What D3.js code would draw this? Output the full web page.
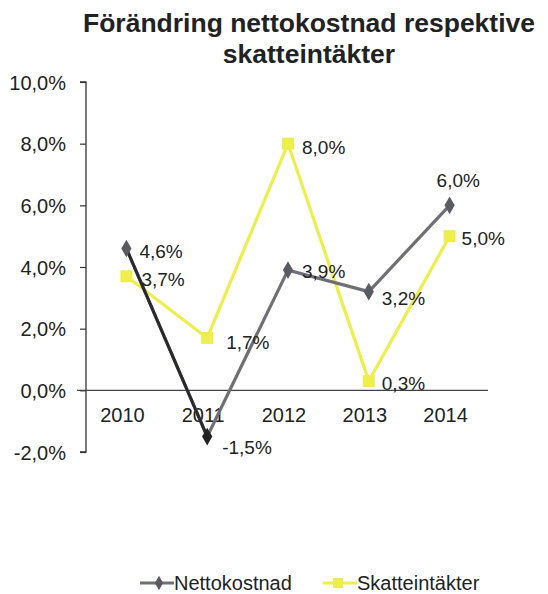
<!DOCTYPE html>
<html>
<head>
<meta charset="utf-8">
<script src="https://cdn.jsdelivr.net/npm/d3@7"></script>
<style>
  html, body { margin: 0; padding: 0; background: #fff; }
  svg text { font-family: "Liberation Sans", Arial, sans-serif; fill: #222; }
</style>
</head>
<body>
<svg id="chart" width="548" height="594"></svg>
<script>
// Yearly change, in percent
const years = ["2010", "2011", "2012", "2013", "2014"];
const nettokostnad = [4.6, -1.5, 3.9, 3.2, 6.0];
const skatteintakter = [3.7, 1.7, 8.0, 0.3, 5.0];
const yTicks = [-2, 0, 2, 4, 6, 8, 10];
const titleLines = ["Förändring nettokostnad respektive", "skatteintäkter"];
const seriesNames = ["Nettokostnad", "Skatteintäkter"];

const svg = d3.select("#chart");
const plotLeft = 86, plotRight = 490, plotTop = 82, plotBottom = 452;

const x = d3.scaleBand().domain(years).range([plotLeft, plotRight]).padding(0);
const y = d3.scaleLinear().domain([-2, 10]).range([plotBottom, plotTop]);
const cx = d => x(d) + x.bandwidth() / 2;
// Swedish style: decimal comma, plain hyphen for negatives
const fmt = v => (v < 0 ? "-" : "") + d3.format(".1f")(Math.abs(v)).replace(".", ",") + "%";

// Title
svg.append("g").selectAll("text").data(titleLines).join("text")
  .attr("x", 309).attr("y", (d, i) => 32 + i * 31)
  .attr("text-anchor", "middle")
  .style("font-size", "26.5px").style("font-weight", "bold")
  .text(d => d);

// Y axis
const yAxis = svg.append("g").attr("transform", `translate(${plotLeft},0)`)
  .call(d3.axisLeft(y).tickValues(yTicks).tickSize(6).tickPadding(14).tickFormat(fmt));
yAxis.select(".domain").attr("stroke", "#333").attr("stroke-width", 1.3).attr("d", `M-6,${plotTop}H0V${plotBottom}H-6`);
yAxis.selectAll(".tick line").attr("stroke", "#333").attr("stroke-width", 1.2);
yAxis.selectAll(".tick text").style("font-size", "20px").attr("fill", "#222").attr("dy", "0.36em");

// Zero line with category labels below
svg.append("line")
  .attr("x1", plotLeft - 9).attr("x2", plotRight - 2)
  .attr("y1", y(0)).attr("y2", y(0))
  .attr("stroke", "#444").attr("stroke-width", 1.3);
svg.append("g").selectAll("text").data(years).join("text")
  .attr("x", d => cx(d) - 4).attr("y", y(0) + 32)
  .attr("text-anchor", "middle")
  .style("font-size", "20px")
  .text(d => d);

const line = d3.line().x((d, i) => cx(years[i])).y(d => y(d));

// Skatteintäkter
const yellow = "#eeee4c";
svg.append("path").datum(skatteintakter)
  .attr("d", line).attr("fill", "none")
  .attr("stroke", yellow).attr("stroke-width", 3.2);
svg.append("g").selectAll("rect").data(skatteintakter).join("rect")
  .attr("x", (d, i) => cx(years[i]) - 6).attr("y", d => y(d) - 6)
  .attr("width", 12).attr("height", 12).attr("fill", yellow);

// Nettokostnad
const gray = "#6f6f76";
svg.append("path").datum(nettokostnad)
  .attr("d", line).attr("fill", "none")
  .attr("stroke", gray).attr("stroke-width", 3.2);
// darker first segment
svg.append("path").datum(nettokostnad.slice(0, 2))
  .attr("d", line).attr("fill", "none")
  .attr("stroke", "#2a2a2e").attr("stroke-width", 3);
svg.append("g").selectAll("path").data(nettokostnad).join("path")
  .attr("d", d3.symbol(d3.symbolDiamond, 90))
  .attr("transform", (d, i) => `translate(${cx(years[i])},${y(d)})`)
  .attr("fill", (d, i) => i === 1 ? "#222" : "#5a5a62");

// Value labels
const nkOffsets = [[13, 9], [15, 17], [14, 8], [13, 13], [-13, -18]];
const skOffsets = [[15, 10], [19, 11], [14, 10], [13, 9], [12, 9]];
svg.append("g").selectAll("text").data(nettokostnad).join("text")
  .attr("x", (d, i) => cx(years[i]) + nkOffsets[i][0])
  .attr("y", (d, i) => y(d) + nkOffsets[i][1])
  .style("font-size", "19px")
  .text(d => fmt(d));
svg.append("g").selectAll("text").data(skatteintakter).join("text")
  .attr("x", (d, i) => cx(years[i]) + skOffsets[i][0])
  .attr("y", (d, i) => y(d) + skOffsets[i][1])
  .style("font-size", "19px")
  .text(d => fmt(d));

// Legend
const legend = svg.append("g").attr("transform", "translate(140,583)");
const colors = [gray, yellow];
const lx = [0, 183];
seriesNames.forEach((name, i) => {
  const g = legend.append("g").attr("transform", `translate(${lx[i]},0)`);
  g.append("line").attr("x1", 0).attr("x2", 34).attr("y1", 0).attr("y2", 0)
    .attr("stroke", colors[i]).attr("stroke-width", 3);
  if (i === 0) {
    g.append("path").attr("d", d3.symbol(d3.symbolDiamond, 60))
      .attr("transform", "translate(19,0)").attr("fill", "#5a5a62");
  } else {
    g.append("rect").attr("x", 10).attr("y", -5).attr("width", 10).attr("height", 10).attr("fill", yellow);
  }
  g.append("text").attr("x", 34).attr("y", 7).style("font-size", "20px").text(name);
});
</script>
</body>
</html>
